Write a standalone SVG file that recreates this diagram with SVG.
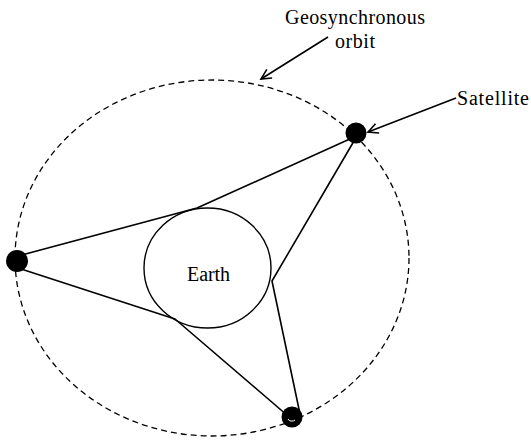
<svg xmlns="http://www.w3.org/2000/svg" width="531" height="440" viewBox="0 0 531 440">
<style>
.lbl{font-family:"Liberation Serif","Times New Roman",serif;font-size:20px;fill:#000}
.link{fill:none;stroke:#000;stroke-width:1.6;stroke-linejoin:round}
.ptr{fill:none;stroke:#000;stroke-width:1.6}
.sat{fill:#000}
</style>
<defs>
<marker id="open" markerWidth="14" markerHeight="14" refX="11" refY="6" orient="auto" markerUnits="userSpaceOnUse">
<path d="M1,1 L11,6 L1,11" fill="none" stroke="#000" stroke-width="1.6"/>
</marker>
</defs>
<rect width="531" height="440" fill="#fff"/>
<g id="orbit">
<ellipse cx="212" cy="258" rx="197" ry="178" fill="none" stroke="#000" stroke-width="1.3" stroke-dasharray="6 4"/>
</g>
<g id="earth">
<ellipse cx="207.5" cy="268" rx="63.5" ry="60" fill="none" stroke="#000" stroke-width="1.4"/>
<text class="lbl" x="187" y="281" textLength="43">Earth</text>
</g>
<g id="connectors">
<polyline class="link" points="18,256 197,208 352,138"/>
<polyline class="link" points="18,268 175,319 288,416"/>
<polyline class="link" points="354,141 272,281 300,414"/>
<line class="ptr" x1="328" y1="37" x2="261" y2="79" marker-end="url(#open)"/>
<line class="ptr" x1="456" y1="98" x2="368" y2="132" marker-end="url(#open)"/>
</g>
<g id="sat-top">
<circle class="sat" cx="356" cy="133" r="10.5"/>
</g>
<g id="sat-left">
<circle class="sat" cx="17" cy="261" r="11"/>
</g>
<g id="sat-bottom">
<circle class="sat" cx="292" cy="417" r="10.5"/>
<path d="M288,419 a4,3 0 0 0 7,1" fill="none" stroke="#fff" stroke-width="1"/>
</g>
<g id="label-geo">
<text class="lbl" x="285" y="24" textLength="140">Geosynchronous</text>
<text class="lbl" x="335" y="48" textLength="40">orbit</text>
</g>
<g id="label-sat">
<text class="lbl" x="457" y="105" textLength="72">Satellite</text>
</g>
</svg>
